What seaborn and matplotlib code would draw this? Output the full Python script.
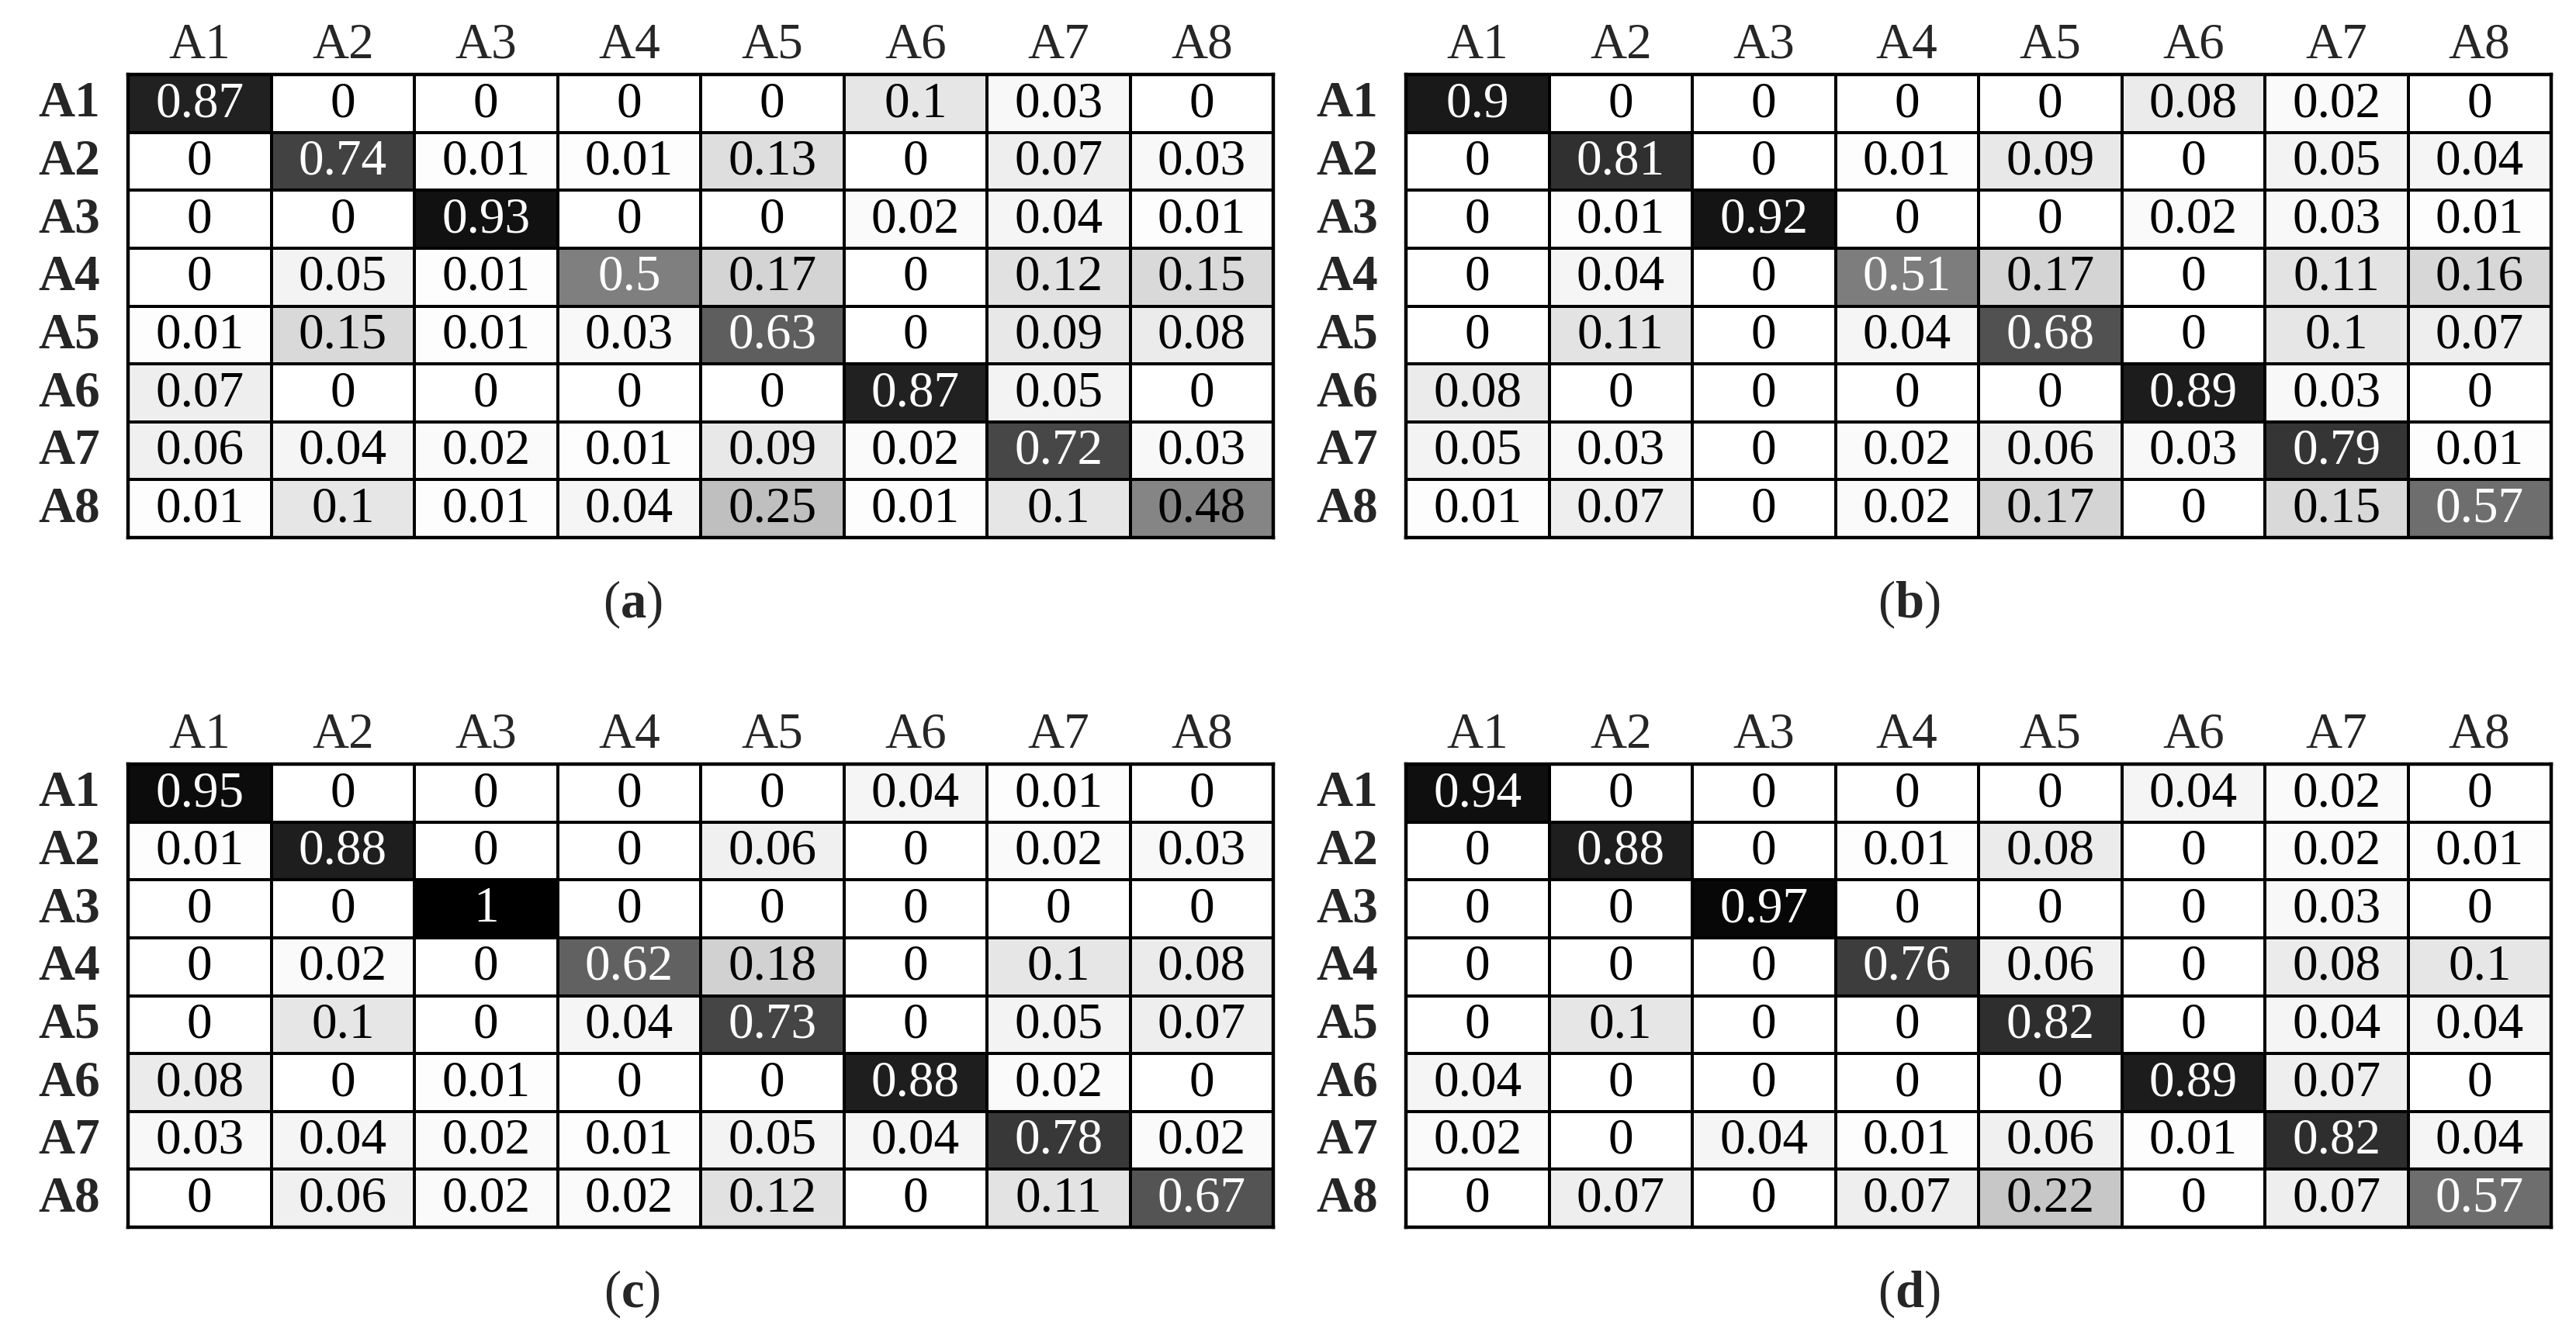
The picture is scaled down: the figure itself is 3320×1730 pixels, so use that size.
import numpy as np
import pandas as pd
import matplotlib
matplotlib.use('Agg')
import matplotlib.pyplot as plt
import seaborn as sns

sns.set_style('white')
plt.rcParams['font.family'] = ['Liberation Serif', 'DejaVu Serif']
plt.rcParams['mathtext.fontset'] = 'custom'
plt.rcParams['mathtext.rm'] = 'Liberation Serif'
plt.rcParams['mathtext.bf'] = 'Liberation Serif:bold'

classes = ['A1', 'A2', 'A3', 'A4', 'A5', 'A6', 'A7', 'A8']
captions = ['a', 'b', 'c', 'd']

conf_a = [
    [0.87, 0, 0, 0, 0, 0.1, 0.03, 0],
    [0, 0.74, 0.01, 0.01, 0.13, 0, 0.07, 0.03],
    [0, 0, 0.93, 0, 0, 0.02, 0.04, 0.01],
    [0, 0.05, 0.01, 0.5, 0.17, 0, 0.12, 0.15],
    [0.01, 0.15, 0.01, 0.03, 0.63, 0, 0.09, 0.08],
    [0.07, 0, 0, 0, 0, 0.87, 0.05, 0],
    [0.06, 0.04, 0.02, 0.01, 0.09, 0.02, 0.72, 0.03],
    [0.01, 0.1, 0.01, 0.04, 0.25, 0.01, 0.1, 0.48],
]
conf_b = [
    [0.9, 0, 0, 0, 0, 0.08, 0.02, 0],
    [0, 0.81, 0, 0.01, 0.09, 0, 0.05, 0.04],
    [0, 0.01, 0.92, 0, 0, 0.02, 0.03, 0.01],
    [0, 0.04, 0, 0.51, 0.17, 0, 0.11, 0.16],
    [0, 0.11, 0, 0.04, 0.68, 0, 0.1, 0.07],
    [0.08, 0, 0, 0, 0, 0.89, 0.03, 0],
    [0.05, 0.03, 0, 0.02, 0.06, 0.03, 0.79, 0.01],
    [0.01, 0.07, 0, 0.02, 0.17, 0, 0.15, 0.57],
]
conf_c = [
    [0.95, 0, 0, 0, 0, 0.04, 0.01, 0],
    [0.01, 0.88, 0, 0, 0.06, 0, 0.02, 0.03],
    [0, 0, 1, 0, 0, 0, 0, 0],
    [0, 0.02, 0, 0.62, 0.18, 0, 0.1, 0.08],
    [0, 0.1, 0, 0.04, 0.73, 0, 0.05, 0.07],
    [0.08, 0, 0.01, 0, 0, 0.88, 0.02, 0],
    [0.03, 0.04, 0.02, 0.01, 0.05, 0.04, 0.78, 0.02],
    [0, 0.06, 0.02, 0.02, 0.12, 0, 0.11, 0.67],
]
conf_d = [
    [0.94, 0, 0, 0, 0, 0.04, 0.02, 0],
    [0, 0.88, 0, 0.01, 0.08, 0, 0.02, 0.01],
    [0, 0, 0.97, 0, 0, 0, 0.03, 0],
    [0, 0, 0, 0.76, 0.06, 0, 0.08, 0.1],
    [0, 0.1, 0, 0, 0.82, 0, 0.04, 0.04],
    [0.04, 0, 0, 0, 0, 0.89, 0.07, 0],
    [0.02, 0, 0.04, 0.01, 0.06, 0.01, 0.82, 0.04],
    [0, 0.07, 0, 0.07, 0.22, 0, 0.07, 0.57],
]

W, H = 3320, 1731
fig = plt.figure(figsize=(W / 200, H / 200), dpi=200)

# pixel boxes of each grid: left, top
lefts = [165, 1812, 165, 1812]
tops = [97, 97, 986, 986]
gw, gh = 1476, 597
cap_x = [815, 2460, 815, 2460]
cap_y = [779, 779, 1668, 1668]

for i, conf in enumerate([conf_a, conf_b, conf_c, conf_d]):
    df = pd.DataFrame(conf, index=classes, columns=classes)
    ax = fig.add_axes([lefts[i] / W, 1 - (tops[i] + gh) / H, gw / W, gh / H])
    sns.heatmap(df, ax=ax, cmap='gray_r', vmin=0, vmax=1, annot=True, fmt='g',
                annot_kws={'fontsize': 23.5}, linewidths=1.3, linecolor='black',
                cbar=False)
    # text colour: white on the dark cells only
    for t in ax.texts:
        t.set_color('white' if float(t.get_text()) >= 0.5 else 'black')
    for s in ax.spines.values():
        s.set_visible(True)
        s.set_linewidth(1.6)
        s.set_color('black')
    ax.xaxis.tick_top()
    ax.tick_params(axis='x', length=0, pad=3, labelsize=23.5)
    ax.tick_params(axis='y', length=0, pad=13, labelsize=23.5, rotation=0)
    for lab in ax.get_yticklabels():
        lab.set_fontweight('bold')
    ax.set_xlabel('')
    ax.set_ylabel('')
    fig.text(cap_x[i] / W, 1 - cap_y[i] / H, r'($\mathbf{%s}$)' % captions[i],
             ha='center', va='center', fontsize=24)

fig.savefig('out.png', dpi=200)
